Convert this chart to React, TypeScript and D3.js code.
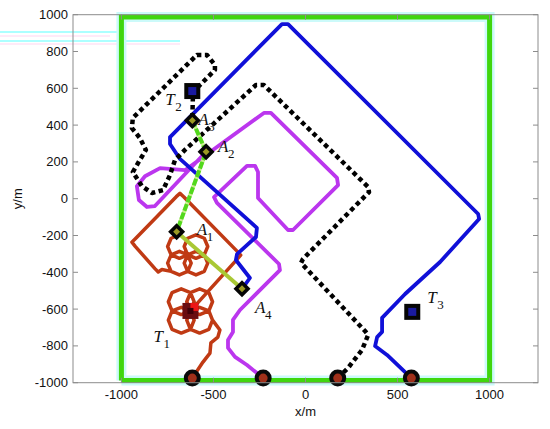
import React from "react";
import * as d3 from "d3";

const W = 550;
const H = 429;

const xTicks = [-1000, -500, 0, 500, 1000];
const yTicks = [1000, 800, 600, 400, 200, 0, -200, -400, -600, -800, -1000];

// region boundary (m)
const boundX = [-1000, 1000];
const boundY = [-988, 988];

// robot start points (bottom edge)
const startPts: [number, number][] = [
  [-615, -975],
  [-230, -975],
  [175, -975],
  [575, -975],
];

// agent tracks (m)
const redTrack: [number, number][] = [
  [-615, -975], [-557, -888], [-519, -839], [-514, -784], [-476, -752],
  [-465, -714], [-505, -660],
  // clover around T1
  [-525, -610], [-575, -590], [-625, -610], [-645, -660], [-625, -710],
  [-575, -730], [-525, -710], [-505, -660], [-525, -610], [-575, -590],
  [-625, -610], [-605, -660], [-625, -710], [-675, -730], [-725, -710],
  [-745, -660], [-725, -610], [-675, -590], [-625, -610], [-675, -630],
  [-725, -610], [-745, -560], [-725, -510], [-675, -490], [-625, -510],
  [-605, -560], [-625, -610], [-575, -630], [-525, -610], [-505, -560],
  [-525, -510], [-575, -490], [-625, -510], [-645, -560], [-625, -610],
  // big diamond
  [-372, -330], [-352, -307], [-372, -285], [-662, 11], [-682, 29],
  [-702, 11], [-923, -216], [-943, -236], [-925, -259], [-818, -380],
  [-800, -398], [-780, -385],
  // knot under A1
  [-730, -395], [-685, -414], [-640, -395], [-621, -350], [-640, -305],
  [-685, -286], [-730, -305], [-749, -350], [-730, -395], [-685, -414],
  [-640, -395], [-621, -350], [-640, -305],
  [-659, -350], [-640, -395], [-595, -414], [-550, -395], [-531, -350],
  [-550, -305], [-595, -286], [-640, -305],
  [-595, -324], [-550, -305], [-531, -260], [-550, -215], [-595, -196],
  [-640, -215], [-659, -260], [-640, -305],
  [-685, -324], [-730, -305], [-749, -260], [-730, -215], [-685, -196],
  [-700, -180],
];

const magentaTrack: [number, number][] = [
  [-230, -975], [-318, -904], [-383, -860], [-421, -811], [-421, -768],
  [-394, -724], [-394, -659], [-356, -605], [-139, -388], [-144, -355],
  [-481, -23], [-497, 9], [-318, 178], [-274, 178], [-258, 145], [-258, 4],
  [-95, -170], [-68, -170], [177, 74], [171, 113], [-188, 466], [-226, 466],
  [-655, 155], [-790, 166], [-872, 122], [-916, 68], [-905, -7], [-861, -45],
  [-818, -40], [-540, 255],
];

const blueTrack: [number, number][] = [
  [575, -975], [443, -849], [378, -801], [389, -752], [416, -724], [416, -648],
  [541, -518], [731, -344], [943, -110], [938, -83], [-95, 949], [-128, 949],
  [-736, 335], [-736, 297], [-682, 216], [-264, -159], [-269, -208],
  [-372, -301], [-378, -333], [-302, -431], [-345, -490],
];

const blackTrack: [number, number][] = [
  [175, -975], [231, -920], [307, -822], [340, -741], [323, -719], [-24, -349],
  [-14, -328], [345, 36], [340, 64], [-226, 618], [-269, 618], [-655, 265],
  [-709, 210], [-736, 129], [-774, 47], [-834, 31], [-889, 69], [-938, 145],
  [-900, 210], [-867, 265], [-900, 330], [-943, 384], [-938, 439], [-590, 781],
  [-535, 781], [-492, 727], [-492, 700], [-611, 580], [-615, 425],
];

// agents A1..A4 and targets T1..T3
const agentNames = ["1", "2", "3", "4"];
const agentPts: [number, number][] = [
  [-700, -180],
  [-540, 255],
  [-615, 425],
  [-345, -490],
];
const targetNames = ["1", "2", "3"];
const targetPts: [number, number][] = [
  [-625, -610],
  [-615, 585],
  [580, -615],
];

// communication chain A3 - A2 - A1 - A4
const chainDashed = [2, 1, 0];
const chainSolid = [0, 3];

const agentLabelOff: [number, number][] = [[20, 3], [12, 0], [6, 4.5], [13, 24]];
const targetLabelOff: [number, number][] = [[-37, 31], [-27, 14], [15, -9]];

const x = d3.scaleLinear().domain([-1263, 1263]).range([73, 538]);
const y = d3.scaleLinear().domain([-1000, 1000]).range([382.7, 14.7]);

const line = d3
  .line<[number, number]>()
  .x((d) => x(d[0]))
  .y((d) => y(d[1]));

function Label({ px, py, sub, letter }: { px: number; py: number; sub: string; letter: string }) {
  return (
    <g fontFamily="'Liberation Serif', 'Times New Roman', serif" fill="#111">
      <text x={px} y={py} fontSize={17} fontStyle="italic">
        {letter}
      </text>
      <text x={px + 10} y={py + 6} fontSize={13}>
        {sub}
      </text>
    </g>
  );
}

export default function App() {
  const x0 = x.range()[0];
  const x1 = x.range()[1];
  const y0 = y.range()[1];
  const y1 = y.range()[0];
  const boundPath = line([
    [boundX[0], boundY[0]],
    [boundX[0], boundY[1]],
    [boundX[1], boundY[1]],
    [boundX[1], boundY[0]],
    [boundX[0], boundY[0]],
  ]) as string;

  return (
    <svg
      width={W}
      height={H}
      style={{ position: "absolute", left: 0, top: 0, background: "#fff" }}
      fontFamily="'Liberation Sans', Arial, sans-serif"
    >
      {/* scan artifacts at top-left */}
      <g opacity={0.8}>
        <line x1={0} x2={120} y1={32} y2={32} stroke="#7ff" strokeWidth={1.5} />
        <line x1={0} x2={110} y1={36} y2={36} stroke="#fce" strokeWidth={1} />
        <line x1={0} x2={180} y1={41} y2={41} stroke="#7ff" strokeWidth={1.5} />
        <line x1={0} x2={180} y1={44} y2={44} stroke="#fce" strokeWidth={1} />
      </g>

      {/* boundary */}
      <path d={boundPath} fill="none" stroke="#ccfafa" strokeWidth={10} />
      <path d={boundPath} fill="none" stroke="#3fd60e" strokeWidth={5} strokeLinejoin="miter" />

      {/* tracks */}
      <path d={line(redTrack) as string} fill="none" stroke="#c03a14" strokeWidth={3.5} strokeLinejoin="round" />
      <path d={line(magentaTrack) as string} fill="none" stroke="#bb36ee" strokeWidth={3.8} strokeLinejoin="round" />
      <path d={line(blueTrack) as string} fill="none" stroke="#1010d8" strokeWidth={3.8} strokeLinejoin="round" />
      <path
        d={line(blackTrack) as string}
        fill="none"
        stroke="#000"
        strokeWidth={4.5}
        strokeDasharray="4.5,3.5"
        strokeLinejoin="round"
      />

      {/* chain links */}
      <path
        d={line(chainSolid.map((i) => agentPts[i])) as string}
        fill="none"
        stroke="#a9c834"
        strokeWidth={4}
      />
      <path
        d={line(chainDashed.map((i) => agentPts[i])) as string}
        fill="none"
        stroke="#c8ee90"
        strokeWidth={4}
      />
      <path
        d={line(chainDashed.map((i) => agentPts[i])) as string}
        fill="none"
        stroke="#52d81c"
        strokeWidth={4}
        strokeDasharray="7,2"
      />

      {/* start points */}
      {startPts.map((p, i) => (
        <g key={"s" + i}>
          <circle cx={x(p[0])} cy={y(p[1])} r={8.5} fill="#0a0a0a" />
          <circle cx={x(p[0])} cy={y(p[1])} r={4.5} fill="#a0301a" />
        </g>
      ))}

      {/* targets */}
      {targetPts.map((p, i) => {
        const cx = x(p[0]);
        const cy = y(p[1]);
        if (i === 0) {
          return (
            <g key={"t" + i}>
              <rect x={cx - 8} y={cy - 8} width={16} height={16} fill="#6a0c10" />
              <rect x={cx} y={cy - 8} width={8} height={8} fill="#ee1616" />
              <rect x={cx - 3} y={cy - 3} width={6} height={6} fill="#400008" />
            </g>
          );
        }
        return (
          <g key={"t" + i}>
            <rect x={cx - 8} y={cy - 8} width={16} height={16} fill="#050505" />
            <rect x={cx - 4} y={cy - 4} width={8} height={8} fill="#1a1aa0" />
          </g>
        );
      })}

      {/* agents */}
      {agentPts.map((p, i) => {
        const cx = x(p[0]);
        const cy = y(p[1]);
        return (
          <g key={"a" + i}>
            <path d={`M${cx},${cy - 8.5}L${cx + 8.5},${cy}L${cx},${cy + 8.5}L${cx - 8.5},${cy}Z`} fill="#050505" />
            <path d={`M${cx},${cy - 3.5}L${cx + 3.5},${cy}L${cx},${cy + 3.5}L${cx - 3.5},${cy}Z`} fill="#9c9a24" />
          </g>
        );
      })}

      {/* labels */}
      {agentPts.map((p, i) => (
        <Label
          key={"al" + i}
          px={x(p[0]) + agentLabelOff[i][0]}
          py={y(p[1]) + agentLabelOff[i][1]}
          letter="A"
          sub={agentNames[i]}
        />
      ))}
      {targetPts.map((p, i) => (
        <Label
          key={"tl" + i}
          px={x(p[0]) + targetLabelOff[i][0]}
          py={y(p[1]) + targetLabelOff[i][1]}
          letter="T"
          sub={targetNames[i]}
        />
      ))}

      {/* axes box */}
      <rect x={x0} y={y0} width={x1 - x0} height={y1 - y0} fill="none" stroke="#8c8c8c" strokeWidth={1} />
      {yTicks.map((t) => (
        <g key={"yt" + t}>
          <line x1={x0} x2={x0 + 5} y1={y(t)} y2={y(t)} stroke="#8c8c8c" />
          <line x1={x1} x2={x1 - 5} y1={y(t)} y2={y(t)} stroke="#8c8c8c" />
          <text x={x0 - 5} y={y(t)} dy="0.35em" textAnchor="end" fontSize={13} fill="#111">
            {t}
          </text>
        </g>
      ))}
      {xTicks.map((t) => (
        <g key={"xt" + t}>
          <line x1={x(t)} x2={x(t)} y1={y1} y2={y1 - 5} stroke="#8c8c8c" />
          <line x1={x(t)} x2={x(t)} y1={y0} y2={y0 + 5} stroke="#8c8c8c" />
          <text x={x(t)} y={y1 + 16} textAnchor="middle" fontSize={13} fill="#111">
            {t}
          </text>
        </g>
      ))}
      <text x={(x0 + x1) / 2} y={y1 + 33} textAnchor="middle" fontSize={13} fill="#111">
        x/m
      </text>
      <text
        transform={`translate(22,${(y0 + y1) / 2}) rotate(-90)`}
        textAnchor="middle"
        fontSize={13}
        fill="#111"
      >
        y/m
      </text>
    </svg>
  );
}
